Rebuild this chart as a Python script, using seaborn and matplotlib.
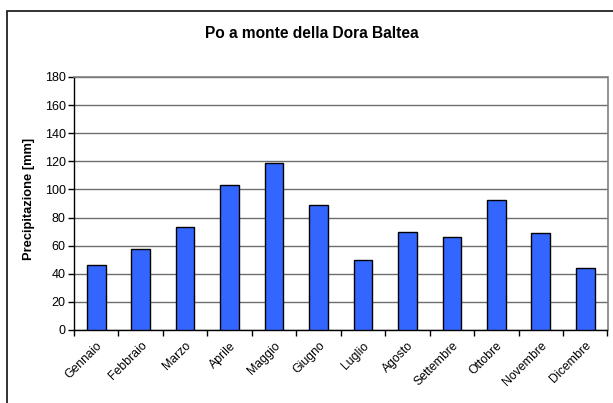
import numpy as np
import matplotlib
matplotlib.use("Agg")
import matplotlib.pyplot as plt
import matplotlib.patches as patches
import pandas as pd
import seaborn as sns

sns.set_style("white")
plt.rcParams['font.family'] = ['Liberation Sans', 'DejaVu Sans']
plt.rcParams.update({'text.color': 'black', 'xtick.color': 'black',
                     'ytick.color': 'black', 'axes.labelcolor': 'black'})

months = ['Gennaio', 'Febbraio', 'Marzo', 'Aprile', 'Maggio', 'Giugno',
          'Luglio', 'Agosto', 'Settembre', 'Ottobre', 'Novembre', 'Dicembre']
precip = [46.1, 57.7, 73.2, 103.1, 118.6, 88.9,
          49.7, 69.9, 66.1, 92.4, 69.1, 44.0]
yticks = [0, 20, 40, 60, 80, 100, 120, 140, 160, 180]

title = 'Po a monte della Dora Baltea'
ylabel = 'Precipitazione [mm]'

df = pd.DataFrame({'mese': months, 'mm': precip})

fig = plt.figure(figsize=(6.13, 4.03), dpi=100)
# outer chart frame (left and top edges visible)
fig.add_artist(patches.Rectangle((7 / 613, -0.05), 1.2, (403 - 10.5) / 403 + 0.05,
                                 transform=fig.transFigure, fill=False,
                                 edgecolor='#222222', linewidth=1.3))

ax = fig.add_axes([74 / 613, 1 - 330 / 403, (607.5 - 74) / 613, (330 - 77) / 403])
sns.barplot(data=df, x='mese', y='mm', color='#3366FF', edgecolor='black',
            linewidth=1.0, width=0.42, saturation=1, ax=ax, zorder=3)

ax.set_ylim(0, 180)
ax.set_xlim(-0.5, len(months) - 0.5)
ax.set_yticks(yticks)
ax.yaxis.grid(True, color='#6e6e6e', linewidth=1.0, zorder=0)
ax.set_axisbelow(True)

ax.set_xticks(np.arange(len(months)))
ax.set_xticklabels(months, rotation=45, ha='right', rotation_mode='anchor')
ax.set_xticks(np.arange(len(months) + 1) - 0.5, minor=True)
ax.tick_params(axis='x', which='major', length=0, pad=7, labelsize=8.8)
ax.tick_params(axis='x', which='minor', length=4, width=1, color='black',
               direction='out', bottom=True)
ax.tick_params(axis='y', length=4, width=1, color='black', direction='out',
               left=True, labelsize=9, pad=2)

for side in ['left', 'bottom']:
    ax.spines[side].set_color('black')
    ax.spines[side].set_linewidth(1.0)
for side in ['top', 'right']:
    ax.spines[side].set_color('#808080')
    ax.spines[side].set_linewidth(1.2)

ax.set_xlabel('')
ax.set_ylabel('')
fig.text(29 / 613, 1 - 199 / 403, ylabel, rotation=90, ha='center', va='center',
         fontsize=9.3, fontweight='bold', color='black')
fig.text(312 / 613, 1 - 33 / 403, title, ha='center', va='center',
         fontsize=11.2, fontweight='bold', color='black')

fig.savefig('out.png', dpi=100)
